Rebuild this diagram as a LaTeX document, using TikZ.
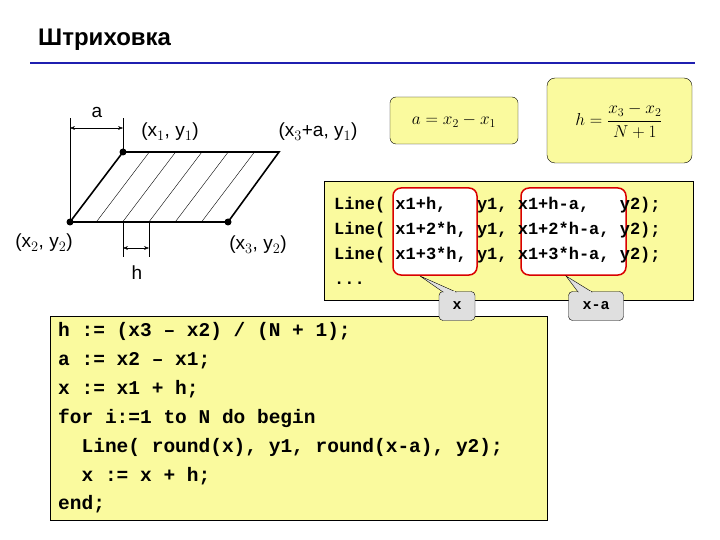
\documentclass[tikz,border=0pt]{standalone}
\usepackage{fontspec}
\setmainfont{Liberation Sans}
\setmonofont{Liberation Mono}
\usetikzlibrary{arrows.meta,calc}
\definecolor{ylw}{HTML}{FAFA9E}
\definecolor{ttl}{HTML}{1F1FB0}
\begin{document}
\begin{tikzpicture}[x=1pt,y=-1pt,
  lbl/.style={font=\fontsize{19}{21}\selectfont, inner sep=0},
  code/.style={font=\fontsize{17}{19}\selectfont\ttfamily\bfseries, anchor=west, inner sep=0},
  bigcode/.style={font=\fontsize{19.5}{21}\selectfont\ttfamily\bfseries, anchor=west, inner sep=0},
  ybox/.style={draw=black, fill=ylw},
  dim/.style={{Stealth[length=5pt]}-{Stealth[length=5pt]}, thin},
  dotp/.style={circle, fill=black, inner sep=0, minimum size=7pt},
  callout/.style={draw=black, fill=gray!25, rounded corners=4pt, minimum width=36pt, minimum height=29pt, font=\fontsize{15}{17}\selectfont\ttfamily\bfseries}]
\useasboundingbox (0,0) rectangle (720,540);
\node[anchor=west, inner sep=0, font=\fontsize{24}{26}\selectfont\bfseries] (title) at (38,40) {Штриховка};
\draw[ttl, line width=2pt] (30,63) coordinate (l1) -- (695,63) coordinate (l2);
% parallelogram
\coordinate (A) at (123,152); \coordinate (B) at (279,152);
\coordinate (C) at (228,222); \coordinate (D) at (70,222);
\draw[line width=1.6pt] (A) -- (B) -- (C) -- (D) -- cycle;
\foreach \i in {1,...,5}{
  \draw[thin] ($(D)+(26.3*\i,0)$) -- ($(A)+(26.3*\i,0)$);}
\node[dotp] (pA) at (A) {}; \node[dotp] (pD) at (D) {}; \node[dotp] (pC) at (C) {};
% a dimension
\coordinate (a1) at (70,118); \coordinate (a2) at (123,118);
\draw[thin] (D) -- (a1); \draw[thin] (A) -- (a2);
\coordinate (a3) at (70,128); \coordinate (a4) at (123,128);
\draw[dim] (a3) -- (a4);
\node[lbl] (la) at (97,112) {a};
% h dimension
\coordinate (h1) at (123,222); \coordinate (h2) at (123,257);
\coordinate (h3) at (149,222); \coordinate (h4) at (149,257);
\draw[thin] (h1) -- (h2); \draw[thin] (h3) -- (h4);
\coordinate (h5) at (123,248); \coordinate (h6) at (149,248);
\draw[dim] (h5) -- (h6);
\node[lbl] (lh) at (137,273) {h};
\node[lbl] (lb1) at (170,132) {(x$_1$, y$_1$)};
\node[lbl] (lb2) at (318,132) {(x$_3$+a, y$_1$)};
\node[lbl] (lb3) at (44,243) {(x$_2$, y$_2$)};
\node[lbl] (lb4) at (258,245) {(x$_3$, y$_2$)};
% formula boxes
\draw[ybox, rounded corners=6pt] (390,97) rectangle (518,144);
\node (f1) at (454,121) {\fontsize{18}{20}\selectfont$a = x_2 - x_1$};
\draw[ybox, rounded corners=8pt] (547,78) rectangle (692,163);
\node (f2) at (619,121) {\fontsize{18}{20}\selectfont$\displaystyle h = \frac{x_3 - x_2}{N+1}$};
% code box
\draw[ybox] (324,181) rectangle (693,300);
\draw[red!85!black, line width=1.5pt, fill=white, rounded corners=8pt] (393,188) rectangle (477,275);
\draw[red!85!black, line width=1.5pt, fill=white, rounded corners=8pt] (521,188) rectangle (626,275);
\node[code] (c1) at (334,205) {Line( x1+h,\ \ \ y1, x1+h-a,\ \ \ y2);};
\node[code] (c2) at (334,230) {Line( x1+2*h, y1, x1+2*h-a, y2);};
\node[code] (c3) at (334,255) {Line( x1+3*h, y1, x1+3*h-a, y2);};
\node[code] (c4) at (334,283) {...};
% lower code box
\draw[ybox] (50,316) rectangle (547,520);
\node[bigcode] (d1) at (58,331) {h := (x3 – x2) / (N + 1);};
\node[bigcode] (d2) at (58,361) {a := x2 – x1;};
\node[bigcode] (d3) at (58,389) {x := x1 + h;};
\node[bigcode] (d4) at (58,418) {for i:=1 to N do begin};
\node[bigcode] (d5) at (58,447) {\ \ Line( round(x), y1, round(x-a), y2);};
\node[bigcode] (d6) at (58,476) {\ \ x := x + h;};
\node[bigcode] (d7) at (58,504) {end;};
% callouts
\node[callout] (cx) at (457,306) {x};
\node[callout, minimum width=55pt] (cxa) at (596,306) {x-a};
\coordinate (t1) at (420,276); \coordinate (t2) at (566,276);
\draw[fill=gray!25] (t1) -- (443,292) -- (456,292) -- cycle;
\draw[fill=gray!25] (t2) -- (578,292) -- (592,292) -- cycle;
\fill[gray!25] (443.6,291) rectangle (455.4,293.5);
\fill[gray!25] (578.6,291) rectangle (591.4,293.5);
\end{tikzpicture}
\end{document}
